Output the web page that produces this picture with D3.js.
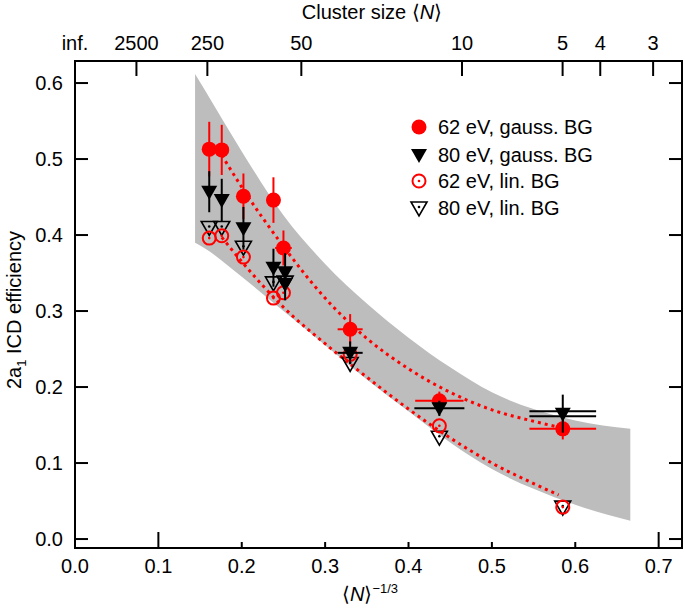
<!DOCTYPE html>
<html><head><meta charset="utf-8">
<script src="https://cdn.jsdelivr.net/npm/d3@7"></script>
<style>body{margin:0;background:#fff} text{font-family:"Liberation Sans",Arial,Helvetica,sans-serif;fill:#000}</style>
</head><body><svg id="c" width="685" height="611"></svg>
<script>
// ---- data ----
const xTicks = [0, 0.1, 0.2, 0.3, 0.4, 0.5, 0.6, 0.7];
const yTicks = [0, 0.1, 0.2, 0.3, 0.4, 0.5, 0.6];
const topTickLabels = ["inf.", "2500", "250", "50", "10", "5", "4", "3"];
const topTickN = [Infinity, 2500, 250, 50, 10, 5, 4, 3];

const seriesNames = ["62 eV, gauss. BG", "80 eV, gauss. BG", "62 eV, lin. BG", "80 eV, lin. BG"];

const g62x = [0.161, 0.176, 0.202, 0.238, 0.250, 0.330, 0.437, 0.585];
const g62y = [0.513, 0.512, 0.451, 0.446, 0.383, 0.276, 0.182, 0.145];
const g62yErr = [0.036, 0.033, 0.030, 0.030, 0.023, 0.020, 0.012, 0.014];
const g62xErr = [0, 0, 0, 0.008, 0.010, 0.015, 0.029, 0.040];

const g80x = [0.161, 0.176, 0.202, 0.238, 0.252, 0.252, 0.330, 0.437, 0.585];
const g80y = [0.457, 0.446, 0.409, 0.357, 0.351, 0.336, 0.245, 0.172, 0.165];
const g80yErr = [0.027, 0.028, 0.028, 0.025, 0.025, 0.022, 0.015, 0.010, 0.025];
const g80xErr = [0, 0, 0, 0, 0, 0, 0.015, 0.030, 0.040];

const l62x = [0.161, 0.176, 0.202, 0.238, 0.250, 0.330, 0.437, 0.585];
const l62y = [0.396, 0.399, 0.371, 0.317, 0.324, 0.243, 0.149, 0.042];
const l80x = [0.161, 0.176, 0.202, 0.238, 0.252, 0.330, 0.437, 0.585];
const l80y = [0.410, 0.410, 0.384, 0.337, 0.338, 0.231, 0.134, 0.042];

const fitUpX = [0.176, 0.20, 0.25, 0.30, 0.35, 0.40, 0.45, 0.50, 0.55, 0.585];
const fitUpY = [0.505, 0.463, 0.385, 0.317, 0.264, 0.224, 0.193, 0.170, 0.155, 0.146];
const fitLoX = [0.176, 0.20, 0.25, 0.30, 0.35, 0.40, 0.45, 0.50, 0.55, 0.58];
const fitLoY = [0.397, 0.365, 0.305, 0.257, 0.213, 0.171, 0.133, 0.100, 0.073, 0.058];

const bandX  = [0.144, 0.155, 0.20, 0.25, 0.30, 0.35, 0.40, 0.45, 0.50, 0.55, 0.60, 0.666];
const bandHi = [0.612, 0.592, 0.510, 0.426, 0.362, 0.310, 0.265, 0.226, 0.193, 0.171, 0.156, 0.145];
const bandLo = [0.390, 0.383, 0.345, 0.300, 0.255, 0.210, 0.168, 0.127, 0.092, 0.066, 0.045, 0.024];

// ---- chart ----
const svg = d3.select("#c");
const x = d3.scaleLinear().domain([0, 0.728]).range([75, 682]);
const y = d3.scaleLinear().domain([-0.0118, 0.629]).range([548, 61]);
const RED = "#ff0000";
const FS = 20;

// band
const area = d3.area().x(d => x(d[0])).y0(d => y(d[1])).y1(d => y(d[2])).curve(d3.curveMonotoneX);
svg.append("path").attr("d", area(bandX.map((v, i) => [v, bandLo[i], bandHi[i]])))
  .attr("fill", "#bdbdbd");

// fits
const ln = d3.line().x(d => x(d[0])).y(d => y(d[1])).curve(d3.curveMonotoneX);
[[fitUpX, fitUpY], [fitLoX, fitLoY]].forEach(([fx, fy]) => {
  svg.append("path").attr("d", ln(fx.map((v, i) => [v, fy[i]])))
    .attr("fill", "none").attr("stroke", RED).attr("stroke-width", 3)
    .attr("stroke-dasharray", "3 4");
});

const tri = (cx, cy) => `M${cx - 8},${cy - 6}L${cx + 8},${cy - 6}L${cx},${cy + 8}Z`;

function errBars(xs, ys, xe, ye, color) {
  const g = svg.append("g").attr("stroke", color).attr("stroke-width", 2);
  xs.forEach((v, i) => {
    if (ye[i] > 0) g.append("line").attr("x1", x(v)).attr("x2", x(v))
      .attr("y1", y(ys[i] - ye[i])).attr("y2", y(ys[i] + ye[i]));
    if (xe[i] > 0) {
      const offs = (color !== RED && xe[i] >= 0.04) ? [-2.5, 2.5] : [0];
      offs.forEach(o => g.append("line").attr("x1", x(v - xe[i])).attr("x2", x(v + xe[i]))
        .attr("y1", y(ys[i]) + o).attr("y2", y(ys[i]) + o));
    }
  });
}

// lin BG (open)
const gl = svg.append("g");
l80x.forEach((v, i) => {
  gl.append("path").attr("d", tri(x(v), y(l80y[i]))).attr("fill", "none")
    .attr("stroke", "#000").attr("stroke-width", 1.6);
  gl.append("circle").attr("cx", x(v)).attr("cy", y(l80y[i]) - 1).attr("r", 1.3).attr("fill", "#000");
});
l62x.forEach((v, i) => {
  gl.append("circle").attr("cx", x(v)).attr("cy", y(l62y[i])).attr("r", 6.5)
    .attr("fill", "none").attr("stroke", RED).attr("stroke-width", 2);
  gl.append("circle").attr("cx", x(v)).attr("cy", y(l62y[i])).attr("r", 1.3).attr("fill", RED);
});

// 62 eV gauss
errBars(g62x, g62y, g62xErr, g62yErr, RED);
svg.append("g").selectAll("circle").data(g62x).join("circle")
  .attr("cx", d => x(d)).attr("cy", (d, i) => y(g62y[i])).attr("r", 7.5).attr("fill", RED);

// 80 eV gauss
errBars(g80x, g80y, g80xErr, g80yErr, "#000");
svg.append("g").selectAll("path").data(g80x).join("path")
  .attr("d", (d, i) => tri(x(d), y(g80y[i]))).attr("fill", "#000");

// frame
svg.append("rect").attr("x", x(0)).attr("y", y(0.629)).attr("width", x(0.728) - x(0))
  .attr("height", y(-0.0118) - y(0.629)).attr("fill", "none").attr("stroke", "#000").attr("stroke-width", 2);

// ticks (inward)
const ax = svg.append("g").attr("stroke", "#000").attr("stroke-width", 2);
yTicks.forEach(t => {
  ax.append("line").attr("x1", x(0)).attr("x2", x(0) + 13).attr("y1", y(t)).attr("y2", y(t));
  ax.append("line").attr("x1", x(0.728)).attr("x2", x(0.728) - 13).attr("y1", y(t)).attr("y2", y(t));
});
xTicks.forEach(t => {
  if (t === 0) return;
  const len = (t === 0.1 || t === 0.7) ? 16 : 6;
  ax.append("line").attr("x1", x(t)).attr("x2", x(t)).attr("y1", y(-0.0118)).attr("y2", y(-0.0118) - len);
});
topTickN.forEach(n => {
  const v = isFinite(n) ? Math.pow(n, -1 / 3) : 0;
  if (v === 0) return;
  ax.append("line").attr("x1", x(v)).attr("x2", x(v)).attr("y1", y(0.629)).attr("y2", y(0.629) + 15);
});

// labels
svg.append("g").selectAll("text").data(yTicks).join("text")
  .attr("x", 63).attr("y", d => y(d)).attr("dy", "0.35em").attr("text-anchor", "end")
  .attr("font-size", FS).text(d => d.toFixed(1));
svg.append("g").selectAll("text").data(xTicks).join("text")
  .attr("x", d => x(d)).attr("y", 573).attr("text-anchor", "middle")
  .attr("font-size", FS).text(d => d.toFixed(1));
svg.append("g").selectAll("text").data(topTickLabels).join("text")
  .attr("x", (d, i) => x(isFinite(topTickN[i]) ? Math.pow(topTickN[i], -1 / 3) : 0))
  .attr("y", 50).attr("text-anchor", "middle").attr("font-size", FS).text(d => d);

// titles
const tt = svg.append("text").attr("x", 372).attr("y", 19).attr("text-anchor", "middle").attr("font-size", FS);
tt.append("tspan").text("Cluster size \u27E8");
tt.append("tspan").attr("font-style", "italic").text("N");
tt.append("tspan").text("\u27E9");

const xt = svg.append("text").attr("x", 370).attr("y", 601).attr("text-anchor", "middle").attr("font-size", FS);
xt.append("tspan").text("\u27E8");
xt.append("tspan").attr("font-style", "italic").text("N");
xt.append("tspan").text("\u27E9");
xt.append("tspan").attr("dy", -8).attr("font-size", 13).text("\u22121/3");

const yt = svg.append("text").attr("transform", "translate(21,310) rotate(-90)")
  .attr("text-anchor", "middle").attr("font-size", FS);
yt.append("tspan").text("2a");
yt.append("tspan").attr("dy", 5).attr("font-size", 13).text("1");
yt.append("tspan").attr("dy", -5).text(" ICD efficiency");

// legend
const legY = [127, 155, 181, 208];
const lg = svg.append("g");
seriesNames.forEach((s, i) => {
  const cx = 419, cy = legY[i];
  if (i === 0) lg.append("circle").attr("cx", cx).attr("cy", cy).attr("r", 7.5).attr("fill", RED);
  if (i === 1) lg.append("path").attr("d", tri(cx, cy)).attr("fill", "#000");
  if (i === 2) {
    lg.append("circle").attr("cx", cx).attr("cy", cy).attr("r", 6.5).attr("fill", "none").attr("stroke", RED).attr("stroke-width", 2);
    lg.append("circle").attr("cx", cx).attr("cy", cy).attr("r", 1.3).attr("fill", RED);
  }
  if (i === 3) {
    lg.append("path").attr("d", tri(cx, cy)).attr("fill", "none").attr("stroke", "#000").attr("stroke-width", 1.6);
    lg.append("circle").attr("cx", cx).attr("cy", cy - 1).attr("r", 1.3).attr("fill", "#000");
  }
  lg.append("text").attr("x", 438).attr("y", cy).attr("dy", "0.35em").attr("font-size", FS).text(s);
});
</script></body></html>
